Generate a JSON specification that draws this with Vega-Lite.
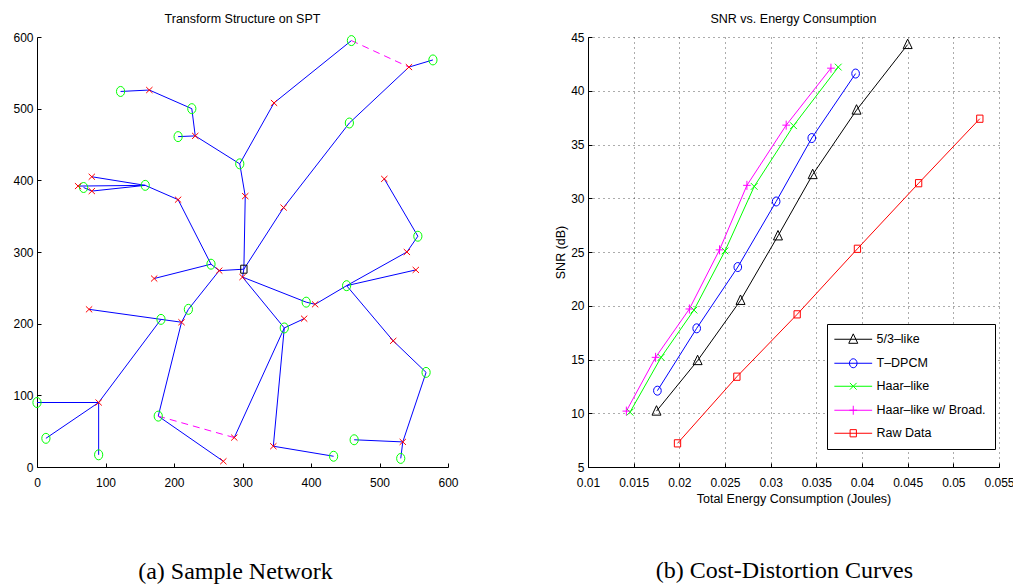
{
  "$schema": "https://vega.github.io/schema/vega-lite/v6.json",
  "background": "white",
  "padding": {"left": 12, "top": 12, "right": 0, "bottom": 0},
  "config": {
    "font": "Liberation Sans, Arial, sans-serif",
    "view": {"stroke": null},
    "axis": {
      "domainColor": "black", "domainWidth": 1, "tickColor": "black", "tickWidth": 1,
      "labelColor": "black", "titleColor": "black", "labelFontSize": 12,
      "titleFontSize": 12.5, "titleFontWeight": "normal", "tickSize": -4,
      "labelFlush": false, "labelOverlap": false, "grid": false
    },
    "title": {"fontSize": 12.5, "fontWeight": "normal", "color": "black"}
  },
  "datasets": {
    "edges": [
      {"x":122,"y":524,"x2":164,"y2":526},{"x":164,"y":526,"x2":226,"y2":500},{"x":226,"y":500,"x2":231,"y2":462},
      {"x":206,"y":461,"x2":231,"y2":462},{"x":231,"y":462,"x2":296,"y2":423},{"x":296,"y":423,"x2":346,"y2":508},
      {"x":346,"y":508,"x2":459,"y2":595},{"x":296,"y":423,"x2":304,"y2":378},{"x":304,"y":378,"x2":302,"y2":276},
      {"x":302,"y":276,"x2":360,"y2":362},{"x":360,"y":362,"x2":456,"y2":480},{"x":456,"y":480,"x2":543,"y2":558},
      {"x":543,"y":558,"x2":578,"y2":568},{"x":80,"y":405,"x2":158,"y2":393},{"x":60,"y":392,"x2":158,"y2":393},
      {"x":68,"y":390,"x2":80,"y2":385},{"x":80,"y":385,"x2":158,"y2":393},{"x":158,"y":393,"x2":206,"y2":373},
      {"x":206,"y":373,"x2":254,"y2":283},{"x":171,"y":263,"x2":254,"y2":283},{"x":254,"y":283,"x2":266,"y2":274},
      {"x":266,"y":274,"x2":302,"y2":276},{"x":266,"y":274,"x2":221,"y2":220},{"x":221,"y":220,"x2":211,"y2":202},
      {"x":211,"y":202,"x2":177,"y2":71},{"x":177,"y":71,"x2":272,"y2":8},{"x":76,"y":220,"x2":181,"y2":206},
      {"x":181,"y":206,"x2":211,"y2":202},{"x":181,"y":206,"x2":90,"y2":90},{"x":90,"y":90,"x2":0,"y2":90},
      {"x":90,"y":90,"x2":13,"y2":40},{"x":90,"y":90,"x2":90,"y2":17},{"x":302,"y":276,"x2":300,"y2":265},
      {"x":300,"y":265,"x2":393,"y2":230},{"x":393,"y":230,"x2":406,"y2":227},{"x":406,"y":227,"x2":452,"y2":253},
      {"x":452,"y":253,"x2":540,"y2":300},{"x":540,"y":300,"x2":556,"y2":322},{"x":556,"y":322,"x2":507,"y2":402},
      {"x":452,"y":253,"x2":553,"y2":275},{"x":452,"y":253,"x2":520,"y2":176},{"x":520,"y":176,"x2":568,"y2":132},
      {"x":568,"y":132,"x2":534,"y2":35},{"x":534,"y":35,"x2":531,"y2":12},{"x":463,"y":38,"x2":534,"y2":35},
      {"x":300,"y":265,"x2":361,"y2":194},{"x":361,"y":194,"x2":390,"y2":207},{"x":361,"y":194,"x2":288,"y2":41},
      {"x":361,"y":194,"x2":345,"y2":29},{"x":345,"y":29,"x2":433,"y2":15}
    ],
    "dashed": [
      {"x":459,"y":595,"x2":543,"y2":558},{"x":177,"y":71,"x2":288,"y2":41}
    ],
    "nodes": [
      {"kind":"o","x":459,"y":595},{"kind":"o","x":578,"y":568},{"kind":"o","x":122,"y":524},{"kind":"o","x":226,"y":500},
      {"kind":"o","x":456,"y":480},{"kind":"o","x":206,"y":461},{"kind":"o","x":296,"y":423},{"kind":"o","x":68,"y":390},
      {"kind":"o","x":158,"y":393},{"kind":"o","x":556,"y":322},{"kind":"o","x":254,"y":283},{"kind":"o","x":393,"y":230},
      {"kind":"o","x":452,"y":253},{"kind":"o","x":181,"y":206},{"kind":"o","x":221,"y":220},{"kind":"o","x":361,"y":194},
      {"kind":"o","x":0,"y":90},{"kind":"o","x":13,"y":40},{"kind":"o","x":90,"y":17},{"kind":"o","x":177,"y":71},
      {"kind":"o","x":568,"y":132},{"kind":"o","x":463,"y":38},{"kind":"o","x":433,"y":15},{"kind":"o","x":531,"y":12},
      {"kind":"x","x":543,"y":558},{"kind":"x","x":164,"y":526},{"kind":"x","x":346,"y":508},{"kind":"x","x":231,"y":462},
      {"kind":"x","x":80,"y":405},{"kind":"x","x":60,"y":392},{"kind":"x","x":80,"y":385},{"kind":"x","x":206,"y":373},
      {"kind":"x","x":304,"y":378},{"kind":"x","x":360,"y":362},{"kind":"x","x":507,"y":402},{"kind":"x","x":540,"y":300},
      {"kind":"x","x":553,"y":275},{"kind":"x","x":171,"y":263},{"kind":"x","x":266,"y":274},{"kind":"x","x":300,"y":265},
      {"kind":"x","x":406,"y":227},{"kind":"x","x":76,"y":220},{"kind":"x","x":211,"y":202},{"kind":"x","x":390,"y":207},
      {"kind":"x","x":520,"y":176},{"kind":"x","x":90,"y":90},{"kind":"x","x":288,"y":41},{"kind":"x","x":272,"y":8},
      {"kind":"x","x":345,"y":29},{"kind":"x","x":534,"y":35},
      {"kind":"s","x":302,"y":276}
    ],
    "curves": [
      {"method":"5/3–like","marker":"tri","energy":0.0175,"snr":10.2},{"method":"5/3–like","marker":"tri","energy":0.0220,"snr":14.9},
      {"method":"5/3–like","marker":"tri","energy":0.0267,"snr":20.5},{"method":"5/3–like","marker":"tri","energy":0.0308,"snr":26.5},
      {"method":"5/3–like","marker":"tri","energy":0.0346,"snr":32.2},{"method":"5/3–like","marker":"tri","energy":0.0394,"snr":38.2},
      {"method":"5/3–like","marker":"tri","energy":0.0450,"snr":44.3},
      {"method":"T–DPCM","marker":"circ","energy":0.0176,"snr":12.1},{"method":"T–DPCM","marker":"circ","energy":0.0219,"snr":17.9},
      {"method":"T–DPCM","marker":"circ","energy":0.0264,"snr":23.6},{"method":"T–DPCM","marker":"circ","energy":0.0306,"snr":29.7},
      {"method":"T–DPCM","marker":"circ","energy":0.0345,"snr":35.6},{"method":"T–DPCM","marker":"circ","energy":0.0393,"snr":41.6},
      {"method":"Haar–like","marker":"x","energy":0.0146,"snr":10.1},{"method":"Haar–like","marker":"x","energy":0.0180,"snr":15.2},
      {"method":"Haar–like","marker":"x","energy":0.0216,"snr":19.6},{"method":"Haar–like","marker":"x","energy":0.0250,"snr":25.1},
      {"method":"Haar–like","marker":"x","energy":0.0282,"snr":31.1},{"method":"Haar–like","marker":"x","energy":0.0325,"snr":36.75},
      {"method":"Haar–like","marker":"x","energy":0.0374,"snr":42.2},
      {"method":"Haar–like w/ Broad.","marker":"plus","energy":0.0142,"snr":10.2},{"method":"Haar–like w/ Broad.","marker":"plus","energy":0.0174,"snr":15.2},
      {"method":"Haar–like w/ Broad.","marker":"plus","energy":0.0211,"snr":19.7},{"method":"Haar–like w/ Broad.","marker":"plus","energy":0.0244,"snr":25.2},
      {"method":"Haar–like w/ Broad.","marker":"plus","energy":0.0274,"snr":31.2},{"method":"Haar–like w/ Broad.","marker":"plus","energy":0.0317,"snr":36.8},
      {"method":"Haar–like w/ Broad.","marker":"plus","energy":0.0366,"snr":42.1},
      {"method":"Raw Data","marker":"sq","energy":0.0198,"snr":7.2},{"method":"Raw Data","marker":"sq","energy":0.0263,"snr":13.4},
      {"method":"Raw Data","marker":"sq","energy":0.0329,"snr":19.2},{"method":"Raw Data","marker":"sq","energy":0.0395,"snr":25.3},
      {"method":"Raw Data","marker":"sq","energy":0.0462,"snr":31.4},{"method":"Raw Data","marker":"sq","energy":0.0529,"snr":37.4}
    ]
  },
  "spacing": 95,
  "resolve": {"scale": {"color": "independent", "shape": "independent"}, "legend": {"color": "independent", "shape": "independent"}},
  "hconcat": [
    {
      "title": {"text": "(a) Sample Network", "orient": "bottom", "anchor": "middle", "font": "Liberation Serif", "fontSize": 24, "offset": 72},
      "vconcat": [
        {
          "width": 411, "height": 430,
          "title": {"text": "Transform Structure on SPT", "offset": 6},
          "layer": [
            {
              "data": {"name": "edges"},
              "mark": {"type": "rule", "color": "#0000ff", "strokeWidth": 1},
              "encoding": {
                "x": {"field": "x", "type": "quantitative", "scale": {"domain": [0, 600], "nice": false},
                      "axis": {"values": [0,100,200,300,400,500,600], "title": null, "labelPadding": 14}},
                "y": {"field": "y", "type": "quantitative", "scale": {"domain": [0, 600], "nice": false},
                      "axis": {"values": [0,100,200,300,400,500,600], "title": null, "labelPadding": 8}},
                "x2": {"field": "x2"},
                "y2": {"field": "y2"}
              }
            },
            {
              "data": {"name": "dashed"},
              "mark": {"type": "rule", "color": "#ff00ff", "strokeWidth": 1, "strokeDash": [7, 5]},
              "encoding": {
                "x": {"field": "x", "type": "quantitative"},
                "y": {"field": "y", "type": "quantitative"},
                "x2": {"field": "x2"},
                "y2": {"field": "y2"}
              }
            },
            {
              "data": {"name": "nodes"},
              "mark": {"type": "point", "filled": false, "strokeWidth": 1, "size": 100, "opacity": 1},
              "encoding": {
                "x": {"field": "x", "type": "quantitative"},
                "y": {"field": "y", "type": "quantitative"},
                "shape": {"field": "kind", "type": "nominal", "legend": null,
                          "scale": {"domain": ["o", "x", "s"],
                                    "range": ["M-0.82,0A0.82,1 0 1,0 0.82,0A0.82,1 0 1,0 -0.82,0Z",
                                              "M-0.63,-0.6L0.63,0.6M0.63,-0.6L-0.63,0.6",
                                              "M-0.63,-0.8H0.63V0.8H-0.63Z"]}},
                "color": {"field": "kind", "type": "nominal", "legend": null,
                          "scale": {"domain": ["o", "x", "s"], "range": ["#00ff00", "#ff0000", "#000000"]}}
              }
            }
          ]
        }
      ]
    },
    {
      "title": {"text": "(b) Cost-Distortion Curves", "orient": "bottom", "anchor": "middle", "font": "Liberation Serif", "fontSize": 24, "offset": 54},
      "vconcat": [
        {
          "width": 411, "height": 430,
          "title": {"text": "SNR vs. Energy Consumption", "offset": 6},
          "data": {"name": "curves"},
          "encoding": {
            "x": {"field": "energy", "type": "quantitative", "title": "Total Energy Consumption (Joules)",
                  "scale": {"domain": [0.01, 0.055], "nice": false, "zero": false},
                  "axis": {"values": [0.01,0.015,0.02,0.025,0.03,0.035,0.04,0.045,0.05,0.055], "format": "~g",
                           "labelPadding": 14, "titlePadding": 4, "grid": true, "gridDash": [1, 4], "gridColor": "#000000", "gridOpacity": 0.65}},
            "y": {"field": "snr", "type": "quantitative", "title": "SNR (dB)",
                  "scale": {"domain": [5, 45], "nice": false, "zero": false},
                  "axis": {"values": [5,10,15,20,25,30,35,40,45], "labelPadding": 8, "titlePadding": 3,
                           "grid": true, "gridDash": [1, 4], "gridColor": "#000000", "gridOpacity": 0.65}},
            "color": {"field": "method", "type": "nominal",
                      "scale": {"domain": ["5/3–like", "T–DPCM", "Haar–like", "Haar–like w/ Broad.", "Raw Data"],
                                "range": ["#000000", "#0000ff", "#00ff00", "#ff00ff", "#ff0000"]},
                      "legend": {"orient": "none", "legendX": 239, "legendY": 287, "title": null,
                                 "strokeColor": "black", "fillColor": "white", "padding": 9,
                                 "symbolSize": 81, "symbolStrokeWidth": 1, "symbolOffset": 11, "labelOffset": 17,
                                 "labelFont": "Liberation Sans", "labelFontSize": 12.5, "labelColor": "black", "rowPadding": 10, "symbolOpacity": 1,
                                 "symbolFillColor": "transparent",
                                 "encode": {"symbols": {
                                   "update": {
                                     "fill": {"value": "transparent"},
                                     "shape": {"signal": "datum.value === '5/3–like' ? 'M-4.2,0L4.2,0M0,-1.2L1,0.9L-1,0.9Z' : datum.value === 'T–DPCM' ? 'M-4.2,0L4.2,0M-0.85,0A0.85,1 0 1,0 0.85,0A0.85,1 0 1,0 -0.85,0Z' : datum.value === 'Haar–like' ? 'M-4.2,0L4.2,0M-0.75,-0.75L0.75,0.75M0.75,-0.75L-0.75,0.75' : datum.value === 'Haar–like w/ Broad.' ? 'M-4.2,0L4.2,0M-0.85,0L0.85,0M0,-1L0,1' : 'M-4.2,0L4.2,0M-0.7,-0.8H0.7V0.8H-0.7Z'"}
                                   },
                                   "fill": {"value": "transparent"},
                                   "shape": {"value": {"expr": "datum.value === '5/3–like' ? 'M-4.2,0L4.2,0M0,-1.2L1,0.9L-1,0.9Z' : datum.value === 'T–DPCM' ? 'M-4.2,0L4.2,0M-0.85,0A0.85,1 0 1,0 0.85,0A0.85,1 0 1,0 -0.85,0Z' : datum.value === 'Haar–like' ? 'M-4.2,0L4.2,0M-0.75,-0.75L0.75,0.75M0.75,-0.75L-0.75,0.75' : datum.value === 'Haar–like w/ Broad.' ? 'M-4.2,0L4.2,0M-0.85,0L0.85,0M0,-1L0,1' : 'M-4.2,0L4.2,0M-0.7,-0.8H0.7V0.8H-0.7Z'"}}
                                 }}}}
          },
          "layer": [
            {"mark": {"type": "line", "strokeWidth": 1}},
            {
              "mark": {"type": "point", "filled": false, "strokeWidth": 1, "size": 81, "opacity": 1},
              "encoding": {
                "shape": {"field": "marker", "type": "nominal", "legend": null,
                          "scale": {"domain": ["tri", "circ", "x", "plus", "sq"],
                                    "range": ["M0,-1.2L1,0.9L-1,0.9Z",
                                              "M-0.85,0A0.85,1 0 1,0 0.85,0A0.85,1 0 1,0 -0.85,0Z",
                                              "M-0.75,-0.75L0.75,0.75M0.75,-0.75L-0.75,0.75",
                                              "M-0.85,0L0.85,0M0,-1L0,1",
                                              "M-0.7,-0.8H0.7V0.8H-0.7Z"]}}
              }
            }
          ]
        }
      ]
    }
  ]
}
